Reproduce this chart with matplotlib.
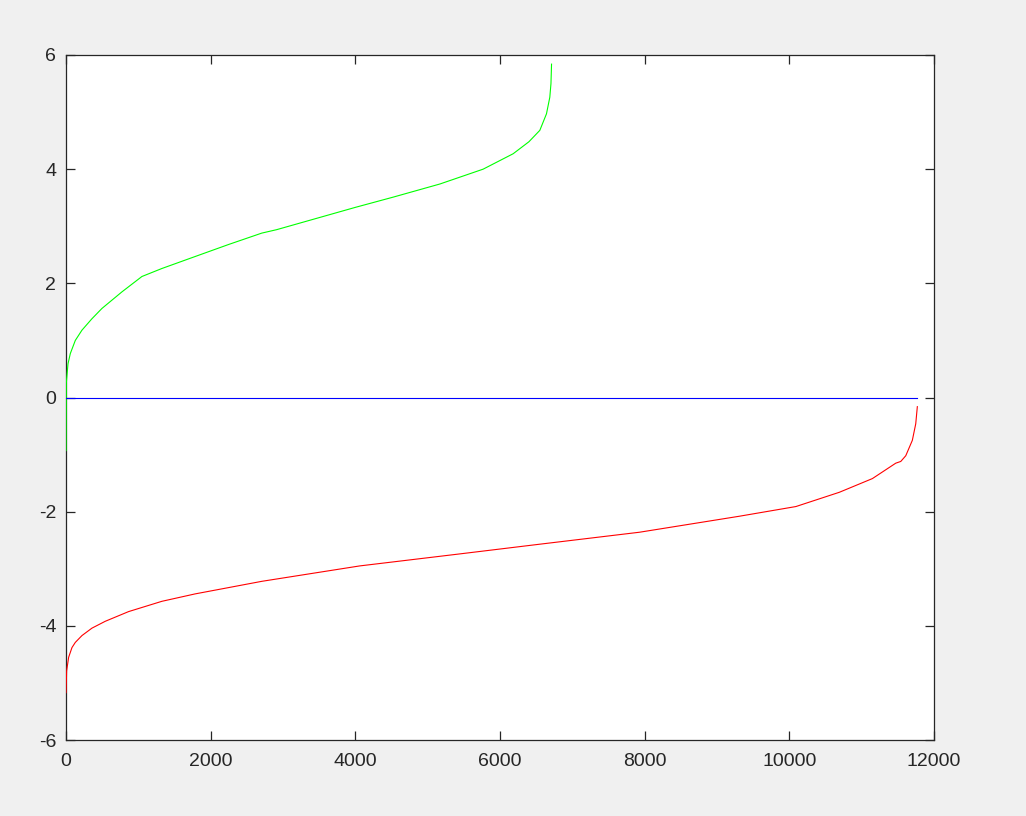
import numpy as np
import matplotlib.pyplot as plt

# sorted scores, positive class (green) and negative class (red)
green_idx = [1, 3, 5, 28, 60, 129, 221, 359, 497, 773, 1050, 1326, 1786, 2247,
             2707, 2912, 3998, 4523, 5169, 5767, 6182, 6400, 6551, 6643, 6689,
             6705, 6713]
green_val = [-0.93, -0.30, 0.26, 0.59, 0.77, 1.00, 1.18, 1.38, 1.56, 1.85, 2.12,
             2.26, 2.47, 2.68, 2.88, 2.94, 3.33, 3.51, 3.74, 4.00, 4.27, 4.48,
             4.68, 4.97, 5.26, 5.50, 5.84]

red_idx = [1, 9, 37, 83, 129, 221, 359, 543, 866, 1326, 1786, 2247, 2707, 4061,
           5442, 6547, 7928, 9308, 10091, 10692, 11149, 11472, 11541, 11610,
           11701, 11748, 11770]
red_val = [-5.17, -4.79, -4.55, -4.38, -4.29, -4.17, -4.04, -3.92, -3.75, -3.57,
           -3.44, -3.33, -3.22, -2.95, -2.74, -2.57, -2.36, -2.08, -1.91, -1.66,
           -1.42, -1.15, -1.12, -1.02, -0.75, -0.46, -0.16]

zero_x = [0, 11770]
zero_y = [0, 0]

xticks = [0, 2000, 4000, 6000, 8000, 10000, 12000]
yticks = [-6, -4, -2, 0, 2, 4, 6]

plt.rcParams['font.family'] = ['Liberation Sans', 'DejaVu Sans']

fig = plt.figure(figsize=(10.26, 8.16), dpi=100, facecolor='#f0f0f0')
ax = fig.add_axes([0.0643, 0.0931, 0.8460, 0.8395])
ax.set_facecolor('white')

# lines drawn above the spines, like the original
ax.plot(green_idx, green_val, color='#00ff00', linewidth=0.8, zorder=3)
ax.plot(zero_x, zero_y, color='#0000ff', linewidth=0.8, zorder=3)
ax.plot(red_idx, red_val, color='#ff0000', linewidth=0.8, zorder=3)

ax.set_xlim(0, 12000)
ax.set_ylim(-6, 6)
ax.set_xticks(xticks)
ax.set_yticks(yticks)
ax.set_xticklabels([str(t) for t in xticks])
ax.set_yticklabels([str(t) for t in yticks])

edge = '#262626'
for s in ax.spines.values():
    s.set_color(edge)
    s.set_linewidth(0.9)
ax.tick_params(direction='in', length=6.3, width=0.9, color=edge, labelcolor=edge,
               labelsize=14, top=True, right=True)
ax.tick_params(axis='x', pad=9)
ax.tick_params(axis='y', pad=7)

fig.savefig('out.png', dpi=100, facecolor=fig.get_facecolor())
